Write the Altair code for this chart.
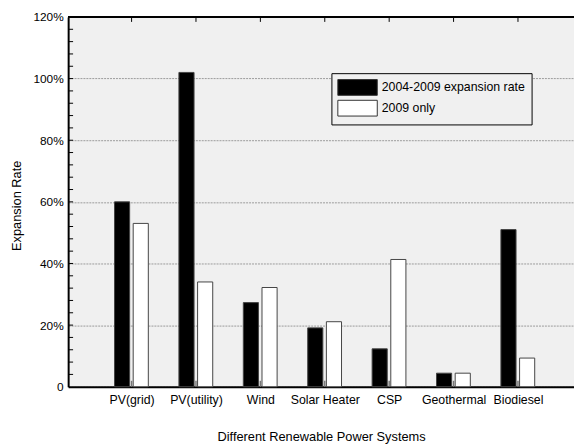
import json
import altair as alt
import pandas as pd

categories = ["PV(grid)", "PV(utility)", "Wind", "Solar Heater", "CSP", "Geothermal", "Biodiesel"]
rate_2004_2009 = [60, 102, 27.3, 19.1, 12.3, 4.4, 51]
only_2009 = [53, 34, 32.2, 21.1, 41.3, 4.4, 9.3]
series = ["2004-2009 expansion rate", "2009 only"]
y_ticks = [0, 20, 40, 60, 80, 100, 120]
minor_ticks = list(range(4, 120, 4))

W, H = 513, 375
offsets = {series[0]: (-0.265, -0.03), series[1]: (0.025, 0.26)}

rows = []
for i, c in enumerate(categories):
    for s, vals in zip(series, [rate_2004_2009, only_2009]):
        o0, o1 = offsets[s]
        rows.append({"idx": i + 1, "cat": c, "series": s, "value": vals[i],
                     "x0": i + 1 + o0, "x1": i + 1 + o1})
df = pd.DataFrame(rows)
cat_df = pd.DataFrame({"idx": list(range(1, len(categories) + 1)), "cat": categories})
tick_df = pd.DataFrame({"v": minor_ticks})

xscale = alt.Scale(domain=[0.015, 7.87], nice=False, zero=False)
yscale = alt.Scale(domain=[0, 120], nice=False)

label_expr = json.dumps(categories) + "[datum.value - 1]"

x_axis = alt.Axis(values=list(range(1, 8)), labelExpr=label_expr, ticks=False,
                  grid=False, domainColor="black", domainWidth=2,
                  labelFontSize=12.5, labelColor="black", labelPadding=7,
                  labelFont="Liberation Sans", title="Different Renewable Power Systems",
                  titleFont="Liberation Sans", titleFontSize=13, titleFontWeight="normal",
                  titleColor="black", titlePadding=25)
y_axis = alt.Axis(values=y_ticks, labelExpr="datum.value == 0 ? '0' : datum.value + '%'",
                  ticks=False, grid=True, gridColor="#999", gridDash=[2, 1], gridWidth=1,
                  domainColor="black", domainWidth=2, labelFontSize=12, labelColor="black",
                  labelFont="Liberation Sans", labelPadding=5,
                  title="Expansion Rate", titleFont="Liberation Sans", titleFontSize=13,
                  titleFontWeight="normal", titleColor="black", titleAngle=270,
                  titleX=-48, titleY=191, titleAlign="center", titleBaseline="alphabetic")

bars = alt.Chart(df).mark_bar(stroke="#444", strokeWidth=1).encode(
    x=alt.X("x0:Q", scale=xscale, axis=x_axis),
    x2="x1:Q",
    y=alt.Y("value:Q", scale=yscale, axis=y_axis),
    y2=alt.datum(0),
    fill=alt.Fill("series:N", scale=alt.Scale(domain=series, range=["black", "white"]),
                  legend=alt.Legend(orient="none", legendX=267, legendY=57, title=None,
                                    symbolType="M-1,-1H4V1H-1Z", symbolSize=256,
                                    symbolStrokeColor="#333", symbolStrokeWidth=1,
                                    symbolOpacity=1, labelOffset=28, labelFontSize=12.5,
                                    labelFont="Liberation Sans", labelColor="black",
                                    fillColor="#f0f0f0", strokeColor="black", padding=6,
                                    rowPadding=0)),
)

minor = alt.Chart(tick_df).mark_rule(color="black", strokeWidth=1).encode(
    y=alt.Y("v:Q", scale=yscale, axis=y_axis),
    x=alt.value(0), x2=alt.value(5),
)
top_ticks = alt.Chart(cat_df).mark_rule(color="black", strokeWidth=1).encode(
    x=alt.X("idx:Q", scale=xscale, axis=x_axis),
    y=alt.value(0), y2=alt.value(5),
)
bottom_ticks = alt.Chart(cat_df).mark_rule(color="#777", strokeWidth=1.5).encode(
    x=alt.X("idx:Q", scale=xscale, axis=x_axis),
    y=alt.value(H), y2=alt.value(H - 6),
)
top_border = alt.Chart(cat_df).mark_rule(color="black", strokeWidth=2).encode(
    x=alt.value(0), x2=alt.value(W), y=alt.value(0),
)

chart = alt.layer(bars, minor, top_ticks, bottom_ticks, top_border).properties(
    width=W, height=H,
    autosize=alt.AutoSizeParams(type="none"),
    padding={"left": 61, "top": 6, "right": 0, "bottom": 56},
    background="white",
).configure_view(fill="#f0f0f0", stroke=None)

chart.save("out.html", embed_options={"renderer": "svg", "actions": False})
